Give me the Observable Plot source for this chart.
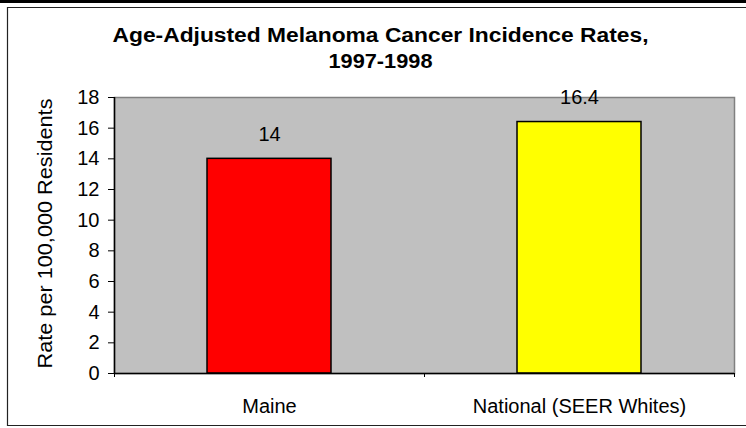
<!DOCTYPE html>
<html>
<head>
<meta charset="utf-8">
<script src="https://cdn.jsdelivr.net/npm/d3@7"></script>
<script src="https://cdn.jsdelivr.net/npm/@observablehq/plot@0.6"></script>
<style>
  html, body { margin: 0; padding: 0; background: #fff; }
  #chart { width: 746px; height: 428px; }
</style>
</head>
<body>
<div id="chart"></div>
<script>
const titleLines = ["Age-Adjusted Melanoma Cancer Incidence Rates,", "1997-1998"];
const yLabel = ["Rate per 100,000 Residents"];
const categories = ["Maine", "National (SEER Whites)"];
const rates = [14, 16.4];
const barColors = ["#ff0000", "#ffff00"];
const yTicks = [0, 2, 4, 6, 8, 10, 12, 14, 16, 18];

const data = categories.map((c, i) => ({i, category: c, rate: rates[i], color: barColors[i]}));

const svg = Plot.plot({
  width: 746,
  height: 428,
  marginTop: 97,
  marginBottom: 55,
  marginLeft: 114,
  marginRight: 12,
  style: {fontFamily: "'Liberation Sans', Arial, sans-serif", fontSize: "20px", color: "#000", background: "#fff", overflow: "visible"},
  x: {domain: [0, categories.length]},
  y: {domain: [0, 18]},
  color: {type: "identity"},
  marks: [
    Plot.frame({fill: "#c0c0c0", stroke: "#808080", strokeWidth: 1.5}),
    Plot.rectY(data, {x1: d => d.i, x2: d => d.i + 1, y: "rate", fill: "color", stroke: "#000", strokeWidth: 1.5, insetLeft: 93, insetRight: 93}),
    Plot.text(data, {x: d => d.i + 0.5, y: "rate", text: d => String(d.rate), lineAnchor: "bottom", dy: -18, fontSize: 20, fill: "#000"}),
    Plot.ruleY([0], {stroke: "#000", strokeWidth: 1.5}),
    Plot.ruleX([0], {stroke: "#000", strokeWidth: 1.5}),
    Plot.axisY({ticks: yTicks, tickSize: 6, tickPadding: 9, fontSize: 20, label: null, tickFormat: d => String(d)}),
    Plot.axisX({ticks: d3.range(categories.length + 1), tickSize: 4, tickFormat: () => "", label: null}),
    Plot.text(categories, {x: (d, i) => i + 0.5, y: () => 0, text: d => d, lineAnchor: "bottom", dy: 39, fontSize: 20, fill: "#000"}),
    Plot.text(yLabel, {frameAnchor: "left", textAnchor: "middle", rotate: -90, dx: -69, dy: -2, text: d => d, fontSize: 20, fill: "#000"}),
    Plot.text([titleLines[0]], {frameAnchor: "top", textAnchor: "middle", text: d => d, lineAnchor: "bottom", dx: -44, dy: -56, fontSize: 20, fontWeight: "bold", fill: "#000"}),
    Plot.text([titleLines[1]], {frameAnchor: "top", textAnchor: "middle", text: d => d, lineAnchor: "bottom", dx: -44, dy: -30, fontSize: 20, fontWeight: "bold", fill: "#000"})
  ]
});

document.getElementById("chart").appendChild(svg);

// Stretch title text horizontally to match the reference widths
const s = d3.select(svg);
const targets = new Map([[titleLines[0], 536], [titleLines[1], 104], [yLabel[0], 270]]);
s.selectAll("text").each(function() {
  const t = this.textContent;
  if (targets.has(t)) {
    this.setAttribute("textLength", targets.get(t));
    this.setAttribute("lengthAdjust", "spacingAndGlyphs");
  }
});

// Outer page/frame lines
const g = s.append("g").attr("fill", "none");
g.append("line").attr("x1", 0).attr("x2", 746).attr("y1", 1.5).attr("y2", 1.5).attr("stroke", "#000").attr("stroke-width", 3);
g.append("path").attr("d", "M746,7.5H7.5V425.5H746").attr("stroke", "#222").attr("stroke-width", 1.2);
</script>
</body>
</html>
